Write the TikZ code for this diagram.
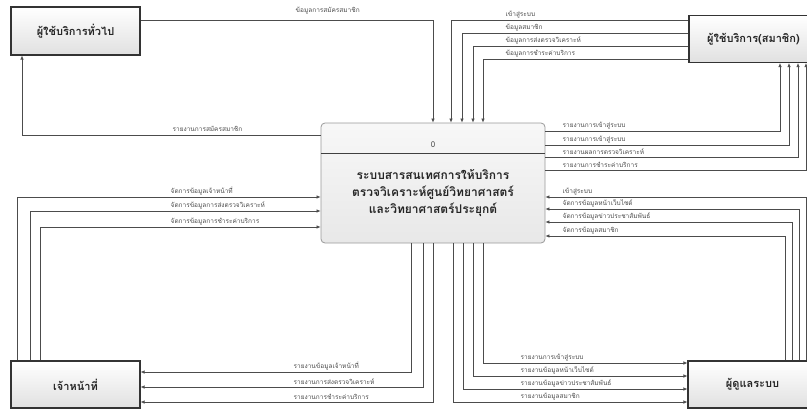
\documentclass[tikz,border=0pt]{standalone}
\usepackage{fontspec}
\usepackage{tikz}
\usetikzlibrary{arrows.meta}
\newfontfamily\thaifont[Script=Thai]{Loma}

\begin{document}
\begin{tikzpicture}
        [x=1pt, y=-1pt,
    entitybox/.style={draw=black!80, line width=1.1pt, top color=white, bottom color=black!12,
        minimum width=129pt, minimum height=47pt, inner sep=0pt,
        font=\thaifont\fontsize{11}{13}\selectfont\bfseries, text=black!85},
    procbox/.style={draw=black!40, line width=0.8pt, top color=black!3, bottom color=black!9,
        rounded corners=4pt, minimum width=224pt, minimum height=120pt},
    proctext/.style={align=center, font=\thaifont\fontsize{12}{17}\selectfont\bfseries, text=black!85},
    procno/.style={font=\thaifont\fontsize{8}{9}\selectfont, text=black!70},
    flow/.style={draw=black!70, line width=0.7pt, -{Latex[length=4pt,width=3.5pt]}},
    lbl/.style={font=\thaifont\fontsize{6.5}{7}\selectfont, text=black!70, inner sep=0.5pt, anchor=south west}]
    \clip (0,0) rectangle (807,410);
    \fill[white] (0,0) rectangle (807,410);

    \node[entitybox, minimum height=48pt] (gen) at (75.5,31) {ผู้ใช้บริการทั่วไป};
    \node[entitybox] (mem) at (753.5,39) {ผู้ใช้บริการ(สมาชิก)};
    \node[entitybox] (off) at (75.5,384.5) {เจ้าหน้าที่};
    \node[entitybox] (adm) at (752.5,384.5) {ผู้ดูแลระบบ};

    \node[procbox] (proc) at (433,183) {};
    \node[procno] (pno) at (433,145) {0};
    \draw[black!75, line width=0.9pt] (proc.west |- 0,153) -- (proc.east |- 0,153);
    \node[proctext] (ptext) at (433,193) {ระบบสารสนเทศการให้บริการ\\ตรวจวิเคราะห์ศูนย์วิทยาศาสตร์\\และวิทยาศาสตร์ประยุกต์};

    % general user
    \draw[flow] (gen.east |- 0,20) -| (proc.north);
    \node[lbl] (gi) at (295,15) {ข้อมูลการสมัครสมาชิก};
    \draw[flow] (proc.west |- 0,135) -| (gen.south -| 22,0);
    \node[lbl] (go) at (172,132.5) {รายงานการสมัครสมาชิก};

    % member
    \foreach \y/\x/\txt [count=\i] in {20/451/เข้าสู่ระบบ, 33/462/ข้อมูลสมาชิก, 46/473/ข้อมูลการส่งตรวจวิเคราะห์, 59/483/ข้อมูลการชำระค่าบริการ}{
        \draw[flow] (mem.west |- 0,\y) -| (proc.north -| \x,0);
        \node[lbl] (mi\i) at (505,\y-1.5) {\txt};
    }
    \foreach \y/\x/\txt [count=\i] in {131/780/รายงานการเข้าสู่ระบบ, 145/789/รายงานการเข้าสู่ระบบ, 157/798/รายงานผลการตรวจวิเคราะห์, 170/806/รายงานการชำระค่าบริการ}{
        \draw[flow] (proc.east |- 0,\y) -| (mem.south -| \x,0);
        \node[lbl] (mo\i) at (562,\y-1.5) {\txt};
    }

    % admin
    \foreach \y/\x/\txt [count=\i] in {197/806/เข้าสู่ระบบ, 209/799/จัดการข้อมูลหน้าเว็บไซต์, 222/792/จัดการข้อมูลข่าวประชาสัมพันธ์, 236/785/จัดการข้อมูลสมาชิก}{
        \draw[flow] (adm.north -| \x,0) |- (proc.east |- 0,\y);
        \node[lbl] (ai\i) at (562,\y-1.5) {\txt};
    }
    \foreach \y/\x/\txt [count=\i] in {363/483/รายงานการเข้าสู่ระบบ, 376/473/รายงานข้อมูลหน้าเว็บไซต์, 389/463/รายงานข้อมูลข่าวประชาสัมพันธ์, 402/453/รายงานข้อมูลสมาชิก}{
        \draw[flow] (proc.south -| \x,0) |- (adm.west |- 0,\y);
        \node[lbl] (ao\i) at (520,\y-1.5) {\txt};
    }

    % staff
    \foreach \y/\x/\txt [count=\i] in {197/17/จัดการข้อมูลเจ้าหน้าที่, 211/30/จัดการข้อมูลการส่งตรวจวิเคราะห์, 227/40/จัดการข้อมูลการชำระค่าบริการ}{
        \draw[flow] (off.north -| \x,0) |- (proc.west |- 0,\y);
        \node[lbl] (oi\i) at (170,\y-1.5) {\txt};
    }
    \foreach \y/\x/\txt [count=\i] in {372/411/รายงานข้อมูลเจ้าหน้าที่, 387/423/รายงานการส่งตรวจวิเคราะห์, 402/433/รายงานการชำระค่าบริการ}{
        \draw[flow] (proc.south -| \x,0) |- (off.east |- 0,\y);
        \node[lbl] (oo\i) at (293,\y-1.5) {\txt};
    }
\end{tikzpicture}
\end{document}
